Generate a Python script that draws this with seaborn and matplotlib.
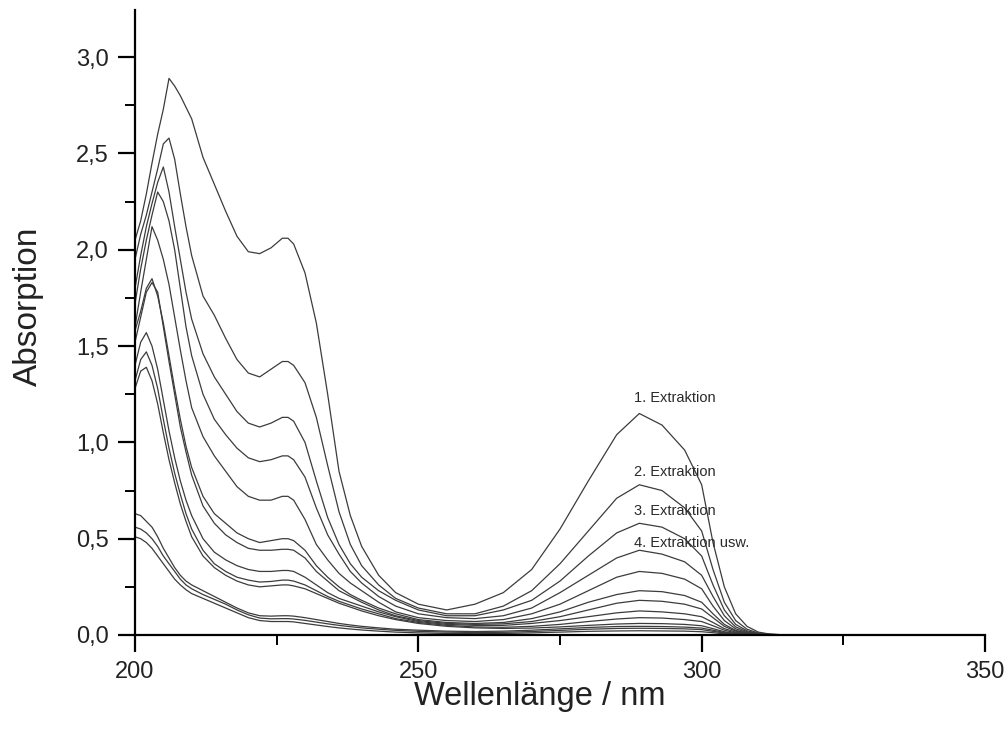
import numpy as np
import pandas as pd
import matplotlib
matplotlib.use("Agg")
import matplotlib.pyplot as plt
from matplotlib.ticker import MultipleLocator, FuncFormatter
import seaborn as sns

wavelength = [200, 201, 202, 203, 204, 205, 206, 207, 208, 209, 210, 212, 214, 216, 218, 220,
              222, 224, 226, 227, 228, 230, 232, 234, 236, 238, 240, 243, 246, 250, 255, 260,
              265, 270, 275, 280, 285, 289, 293, 297, 300, 302, 304, 306, 308, 310, 312, 315]

extraction_1 = [2.05, 2.15, 2.29, 2.45, 2.60, 2.73, 2.89, 2.85, 2.80, 2.74, 2.68, 2.48, 2.34, 2.20, 2.07, 1.99,
                1.98, 2.01, 2.06, 2.06, 2.03, 1.88, 1.62, 1.25, 0.85, 0.62, 0.46, 0.31, 0.22, 0.16, 0.13, 0.16,
                0.22, 0.34, 0.55, 0.80, 1.04, 1.15, 1.09, 0.96, 0.78, 0.48, 0.25, 0.11, 0.045, 0.015, 0.005, 0.0]
extraction_2 = [1.95, 2.08, 2.18, 2.30, 2.42, 2.55, 2.58, 2.47, 2.29, 2.12, 1.97, 1.76, 1.66, 1.54, 1.43, 1.36,
                1.34, 1.38, 1.42, 1.42, 1.40, 1.31, 1.13, 0.88, 0.64, 0.47, 0.36, 0.26, 0.19, 0.14, 0.11, 0.11,
                0.15, 0.23, 0.37, 0.54, 0.71, 0.78, 0.75, 0.66, 0.54, 0.34, 0.17, 0.075, 0.03, 0.01, 0.004, 0.0]
extraction_3 = [1.80, 1.97, 2.12, 2.24, 2.35, 2.43, 2.30, 2.12, 1.95, 1.78, 1.64, 1.46, 1.34, 1.25, 1.16, 1.10,
                1.08, 1.10, 1.13, 1.13, 1.11, 1.00, 0.80, 0.61, 0.47, 0.37, 0.30, 0.23, 0.18, 0.13, 0.10, 0.10,
                0.13, 0.18, 0.28, 0.41, 0.53, 0.58, 0.56, 0.50, 0.41, 0.26, 0.13, 0.055, 0.022, 0.008, 0.003, 0.0]
extraction_4 = [1.72, 1.90, 2.05, 2.18, 2.30, 2.25, 2.15, 2.00, 1.80, 1.60, 1.45, 1.25, 1.12, 1.04, 0.97, 0.92,
                0.90, 0.91, 0.93, 0.93, 0.91, 0.82, 0.66, 0.52, 0.42, 0.33, 0.27, 0.20, 0.15, 0.11, 0.09, 0.085,
                0.10, 0.14, 0.22, 0.31, 0.40, 0.44, 0.42, 0.38, 0.31, 0.20, 0.10, 0.042, 0.017, 0.006, 0.002, 0.0]
extraction_5 = [1.60, 1.78, 1.95, 2.12, 2.05, 1.95, 1.82, 1.65, 1.48, 1.32, 1.18, 1.03, 0.93, 0.85, 0.77, 0.72,
                0.70, 0.70, 0.72, 0.72, 0.70, 0.60, 0.47, 0.39, 0.32, 0.27, 0.23, 0.17, 0.12, 0.09, 0.075, 0.07,
                0.08, 0.11, 0.16, 0.23, 0.30, 0.33, 0.32, 0.29, 0.24, 0.15, 0.075, 0.032, 0.013, 0.005, 0.002, 0.0]
extraction_6 = [1.58, 1.68, 1.80, 1.85, 1.76, 1.62, 1.45, 1.28, 1.12, 0.98, 0.87, 0.72, 0.63, 0.58, 0.53, 0.50,
                0.48, 0.49, 0.50, 0.50, 0.49, 0.44, 0.36, 0.30, 0.25, 0.21, 0.18, 0.14, 0.11, 0.08, 0.065, 0.06,
                0.065, 0.085, 0.12, 0.17, 0.21, 0.23, 0.225, 0.205, 0.17, 0.11, 0.055, 0.024, 0.01, 0.004, 0.001, 0.0]
extraction_7 = [1.52, 1.65, 1.78, 1.83, 1.78, 1.60, 1.42, 1.25, 1.08, 0.95, 0.83, 0.67, 0.58, 0.52, 0.48, 0.45,
                0.44, 0.44, 0.445, 0.445, 0.44, 0.40, 0.33, 0.28, 0.23, 0.20, 0.17, 0.13, 0.10, 0.075, 0.06, 0.055,
                0.058, 0.07, 0.095, 0.13, 0.165, 0.18, 0.175, 0.16, 0.135, 0.09, 0.045, 0.02, 0.008, 0.003, 0.001, 0.0]
extraction_8 = [1.40, 1.52, 1.57, 1.50, 1.38, 1.22, 1.06, 0.92, 0.80, 0.70, 0.62, 0.50, 0.43, 0.39, 0.36, 0.34,
                0.33, 0.33, 0.335, 0.335, 0.33, 0.30, 0.26, 0.22, 0.19, 0.17, 0.15, 0.12, 0.095, 0.07, 0.055, 0.05,
                0.05, 0.06, 0.075, 0.095, 0.115, 0.125, 0.12, 0.11, 0.095, 0.065, 0.033, 0.015, 0.006, 0.002, 0.001, 0.0]
extraction_9 = [1.32, 1.43, 1.47, 1.40, 1.28, 1.12, 0.97, 0.84, 0.73, 0.63, 0.55, 0.44, 0.37, 0.33, 0.30, 0.285,
                0.275, 0.278, 0.285, 0.285, 0.28, 0.26, 0.23, 0.20, 0.175, 0.155, 0.135, 0.11, 0.085, 0.065, 0.05, 0.042,
                0.04, 0.045, 0.055, 0.07, 0.083, 0.09, 0.088, 0.08, 0.07, 0.048, 0.025, 0.011, 0.004, 0.002, 0.001, 0.0]
extraction_10 = [1.28, 1.37, 1.39, 1.32, 1.20, 1.05, 0.91, 0.79, 0.68, 0.59, 0.51, 0.41, 0.35, 0.31, 0.28, 0.26,
                 0.25, 0.255, 0.26, 0.26, 0.255, 0.24, 0.215, 0.19, 0.165, 0.145, 0.125, 0.10, 0.08, 0.06, 0.045, 0.037,
                 0.034, 0.036, 0.042, 0.05, 0.057, 0.06, 0.059, 0.055, 0.048, 0.033, 0.017, 0.008, 0.003, 0.001, 0.0, 0.0]
extraction_11 = [0.63, 0.62, 0.59, 0.56, 0.51, 0.45, 0.40, 0.35, 0.31, 0.28, 0.26, 0.23, 0.20, 0.17, 0.14, 0.115,
                 0.10, 0.098, 0.10, 0.10, 0.098, 0.09, 0.08, 0.07, 0.06, 0.052, 0.045, 0.037, 0.03, 0.025, 0.02, 0.018,
                 0.02, 0.025, 0.032, 0.039, 0.044, 0.045, 0.044, 0.041, 0.036, 0.025, 0.013, 0.006, 0.002, 0.001, 0.0, 0.0]
extraction_12 = [0.56, 0.55, 0.53, 0.50, 0.46, 0.41, 0.37, 0.33, 0.29, 0.26, 0.24, 0.21, 0.185, 0.16, 0.13, 0.105,
                 0.088, 0.084, 0.085, 0.085, 0.083, 0.076, 0.067, 0.058, 0.05, 0.043, 0.037, 0.03, 0.024, 0.019, 0.015, 0.013,
                 0.014, 0.018, 0.024, 0.03, 0.034, 0.035, 0.034, 0.032, 0.028, 0.019, 0.01, 0.004, 0.002, 0.001, 0.0, 0.0]
extraction_13 = [0.51, 0.50, 0.48, 0.45, 0.41, 0.37, 0.33, 0.29, 0.26, 0.235, 0.215, 0.19, 0.165, 0.14, 0.115, 0.09,
                 0.075, 0.07, 0.07, 0.07, 0.068, 0.06, 0.052, 0.044, 0.037, 0.031, 0.026, 0.02, 0.015, 0.011, 0.008, 0.007,
                 0.008, 0.011, 0.015, 0.019, 0.021, 0.022, 0.021, 0.02, 0.017, 0.012, 0.006, 0.003, 0.001, 0.0, 0.0, 0.0]

series = [extraction_1, extraction_2, extraction_3, extraction_4, extraction_5, extraction_6, extraction_7,
          extraction_8, extraction_9, extraction_10, extraction_11, extraction_12, extraction_13]

annotations = ["1. Extraktion", "2. Extraktion", "3. Extraktion", "4. Extraktion usw."]
annotation_y = [1.23, 0.846, 0.644, 0.477]
annotation_x = 288.0

rows = []
for i, s in enumerate(series):
    for w, a in zip(wavelength, s):
        rows.append({"wl": w, "A": a, "curve": i + 1})
df = pd.DataFrame(rows)

sns.set_style("ticks")
plt.rcParams["font.family"] = ["Liberation Sans", "DejaVu Sans"]

fig = plt.figure(figsize=(10.08, 7.35), dpi=100)
ax = fig.add_axes([135 / 1008, 100 / 735, 850 / 1008, 625 / 735])

sns.lineplot(data=df, x="wl", y="A", units="curve", estimator=None, color="#3c3c3c",
             linewidth=0.9, legend=False, ax=ax, sort=False)

for txt, y in zip(annotations, annotation_y):
    ax.text(annotation_x, y, txt, fontsize=10.5, color="#2a2a2a", ha="left", va="center")

ax.set_xlim(200, 350)
ax.set_ylim(0, 3.245)
ax.xaxis.set_major_locator(MultipleLocator(50))
ax.xaxis.set_minor_locator(MultipleLocator(25))
ax.yaxis.set_major_locator(MultipleLocator(0.5))
ax.yaxis.set_minor_locator(MultipleLocator(0.25))
ax.yaxis.set_major_formatter(FuncFormatter(lambda v, p: f"{v:.1f}".replace(".", ",")))
ax.xaxis.set_major_formatter(FuncFormatter(lambda v, p: f"{int(round(v))}"))

sns.despine(ax=ax)
for side in ["left", "bottom"]:
    ax.spines[side].set_linewidth(1.6)
    ax.spines[side].set_color("black")
ax.tick_params(which="major", length=12, width=1.6, direction="out", labelsize=17,
               labelcolor="#222222", pad=7, color="black")
ax.tick_params(which="minor", length=7, width=1.4, direction="out", color="black")

ax.set_xlabel("Wellenlänge / nm", fontsize=23.5, color="#222222")
ax.set_ylabel("Absorption", fontsize=24, color="#222222")
ax.xaxis.label.set_va("center")
ax.yaxis.label.set_va("center")
ax.xaxis.set_label_coords((540 - 135) / 850, (635 - 697) / 625)
ax.yaxis.set_label_coords((28 - 135) / 850, (635 - 306) / 625)

fig.savefig("out.png", dpi=100, facecolor="white")
